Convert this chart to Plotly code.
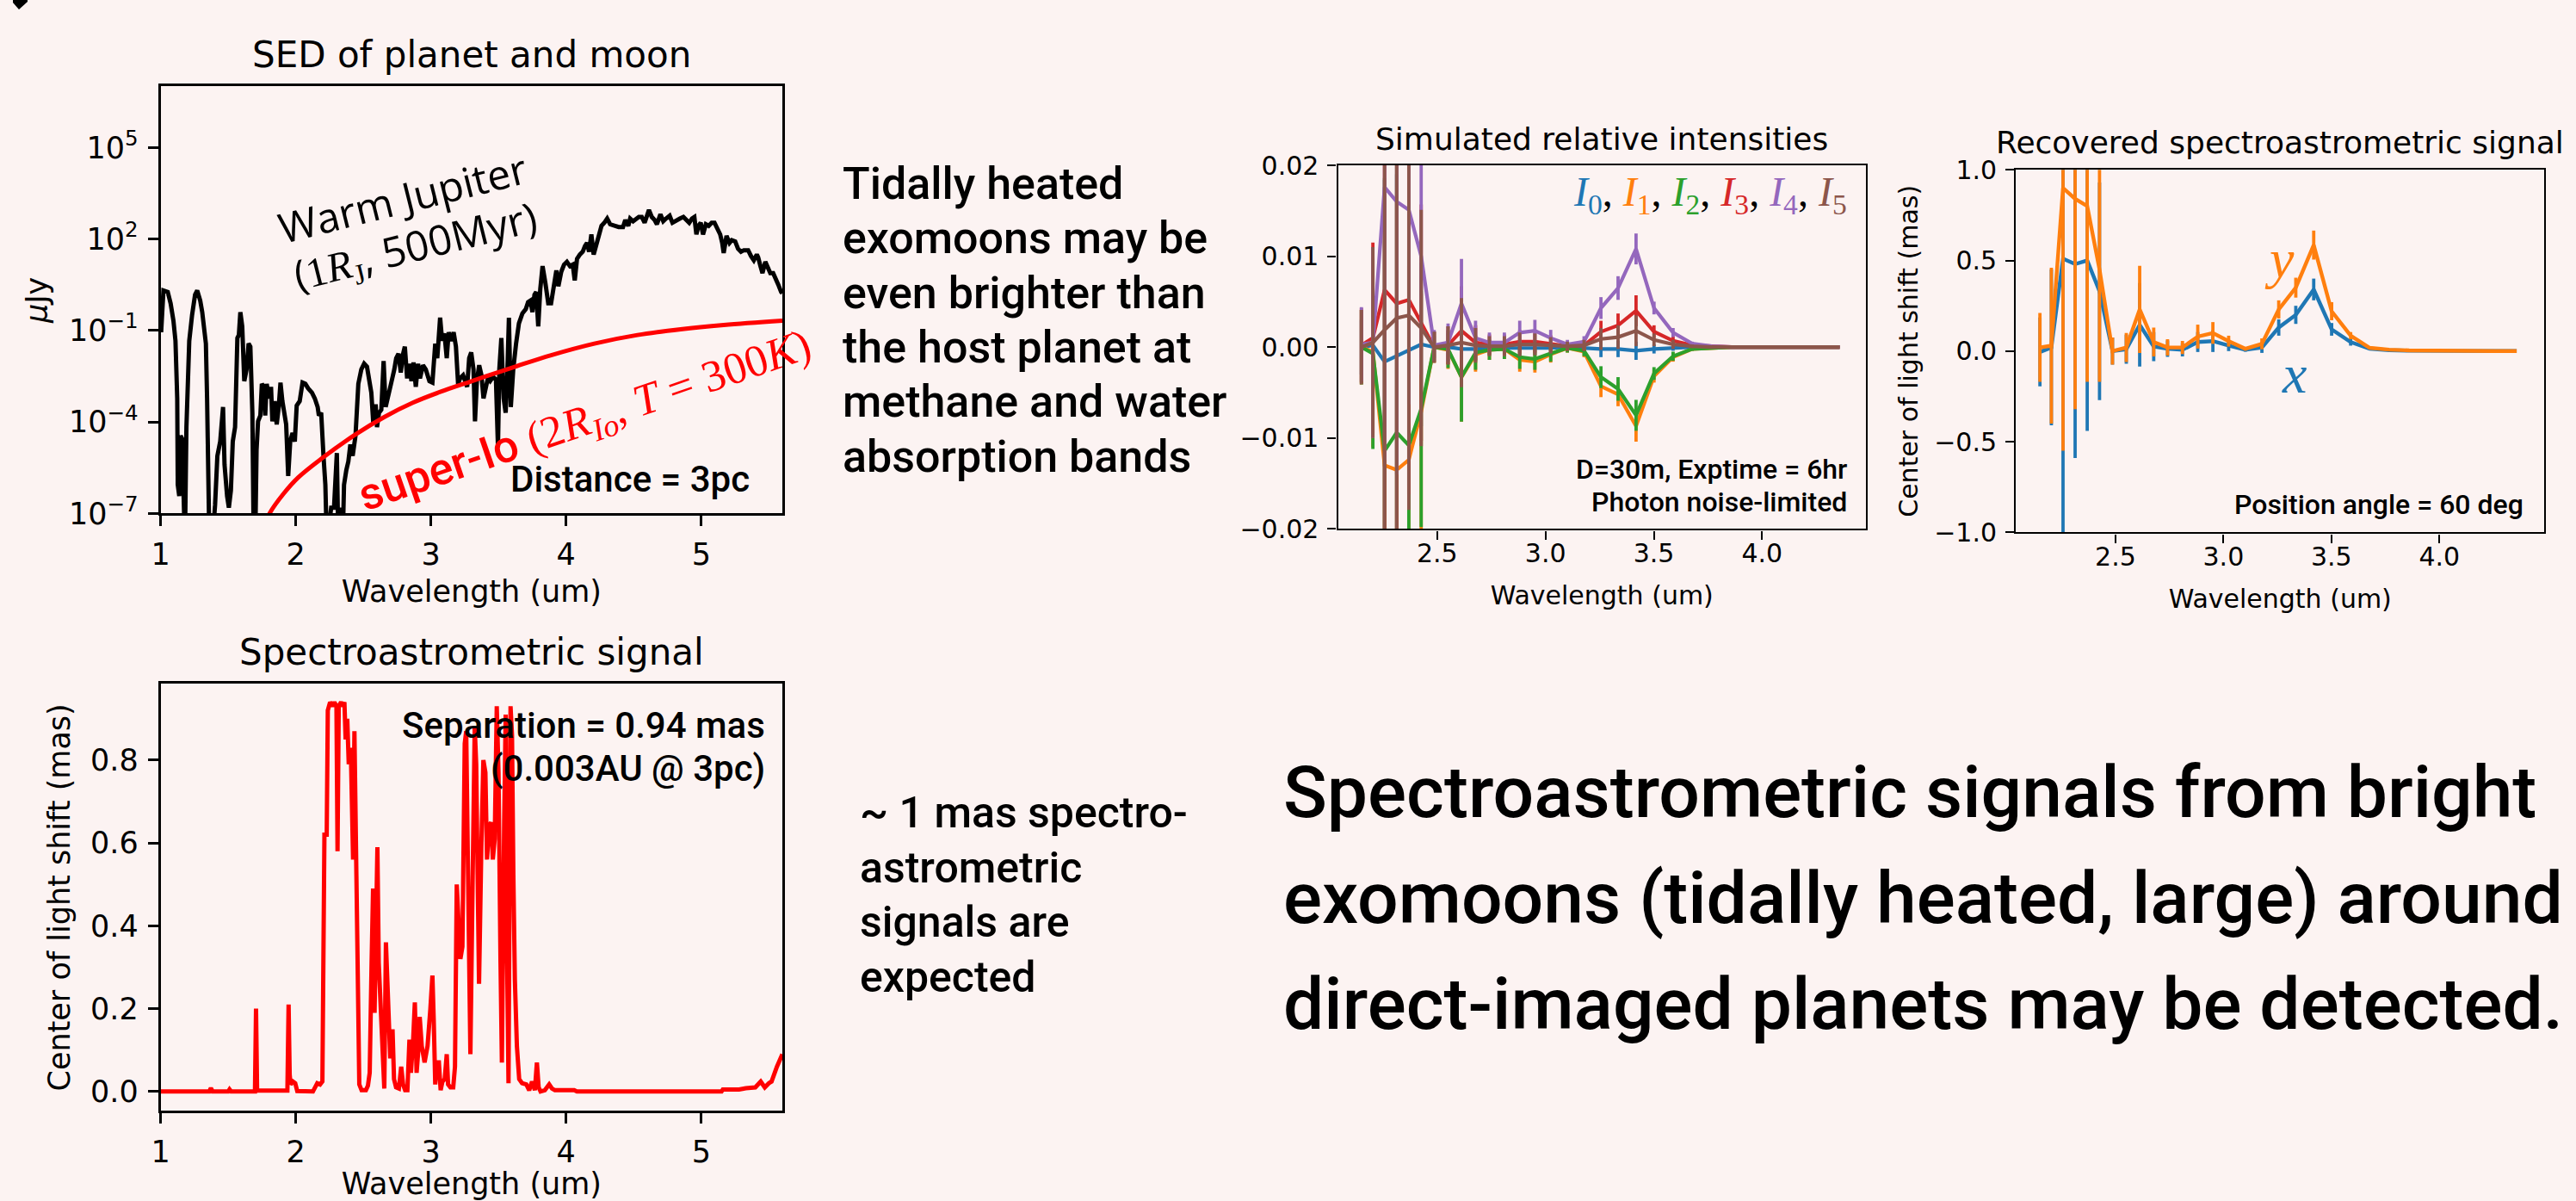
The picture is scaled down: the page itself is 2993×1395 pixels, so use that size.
import plotly.graph_objects as go

W, H = 2993, 1395
BG = "#FCF3F2"
MPL = "DejaVu Sans"
SLIDE = "Roboto"
MATH = "Liberation Serif"
TAB = ["#1f77b4", "#ff7f0e", "#2ca02c", "#d62728", "#9467bd", "#8c564b"]

# ---------------- Panel 1: SED (wavelength in um, log10 flux in uJy) ----------------
SED_WAVE = [1.004, 1.021, 1.053, 1.074, 1.095, 1.110, 1.123, 1.127, 1.138, 1.148, 1.159, 1.170, 1.180,
            1.191, 1.201, 1.212, 1.233, 1.255, 1.271, 1.293, 1.308, 1.322, 1.335, 1.344, 1.361, 1.382,
            1.403, 1.420, 1.441, 1.462, 1.473, 1.492, 1.505, 1.520, 1.534, 1.551, 1.568, 1.579, 1.590,
            1.604, 1.619, 1.636, 1.651, 1.664, 1.679, 1.689, 1.700, 1.710, 1.721, 1.738, 1.749, 1.764,
            1.774, 1.785, 1.802, 1.817, 1.827, 1.844, 1.859, 1.874, 1.887, 1.901, 1.916, 1.929, 1.944,
            1.959, 1.976, 1.993, 2.007, 2.029, 2.050, 2.071, 2.092, 2.120, 2.141, 2.162, 2.171, 2.188,
            2.205, 2.219, 2.230, 2.262, 2.283, 2.304, 2.315, 2.336, 2.347, 2.357, 2.374, 2.389, 2.404,
            2.421, 2.442, 2.463, 2.485, 2.506, 2.527, 2.544, 2.559, 2.574, 2.591, 2.601, 2.616, 2.633,
            2.650, 2.665, 2.680, 2.697, 2.714, 2.729, 2.743, 2.760, 2.777, 2.792, 2.807, 2.824, 2.841,
            2.856, 2.871, 2.888, 2.905, 2.919, 2.941, 2.962, 2.989, 3.011, 3.032, 3.047, 3.068, 3.083,
            3.100, 3.117, 3.131, 3.153, 3.168, 3.185, 3.201, 3.216, 3.238, 3.268, 3.283, 3.298, 3.315,
            3.326, 3.340, 3.357, 3.374, 3.389, 3.404, 3.421, 3.438, 3.460, 3.481, 3.496, 3.506, 3.521,
            3.538, 3.553, 3.566, 3.577, 3.591, 3.609, 3.630, 3.651, 3.677, 3.702, 3.719, 3.736, 3.751,
            3.766, 3.779, 3.794, 3.809, 3.826, 3.847, 3.868, 3.889, 3.911, 3.928, 3.943, 3.964, 3.985,
            4.006, 4.028, 4.049, 4.064, 4.081, 4.102, 4.123, 4.140, 4.155, 4.170, 4.187, 4.204, 4.219,
            4.240, 4.262, 4.283, 4.304, 4.326, 4.357, 4.389, 4.421, 4.438, 4.460, 4.474, 4.496, 4.517,
            4.538, 4.560, 4.581, 4.613, 4.634, 4.655, 4.672, 4.698, 4.719, 4.740, 4.766, 4.787, 4.815,
            4.843, 4.868, 4.889, 4.911, 4.932, 4.949, 4.964, 4.979, 4.996, 5.013, 5.034, 5.055, 5.077,
            5.098, 5.119, 5.140, 5.155, 5.166, 5.187, 5.209, 5.226, 5.251, 5.272, 5.294, 5.315, 5.347,
            5.368, 5.389, 5.411, 5.421, 5.438, 5.453, 5.474, 5.496, 5.511, 5.532, 5.549, 5.570, 5.591,
            5.600]
SED_LOGFLUX = [-1.06, 0.31, 0.26, -0.11, -0.68, -1.34, -3.23, -6.06, -6.43, -4.45, -4.55, -8.0, -8.0,
               -4.17, -2.28, -1.34, -0.49, 0.17, 0.31, -0.02, -0.40, -1.15, -1.43, -3.23, -8.0, -8.0,
               -6.72, -5.11, -4.64, -3.51, -5.40, -6.43, -6.81, -6.25, -4.64, -4.17, -1.25, -1.15, -0.40,
               -0.87, -2.66, -2.28, -1.43, -1.53, -3.70, -8.0, -8.0, -4.92, -3.98, -3.79, -2.75, -2.85,
               -3.79, -2.75, -3.23, -2.85, -3.98, -3.32, -4.08, -3.51, -2.71, -3.32, -3.79, -4.08, -5.77,
               -4.64, -4.36, -4.64, -3.46, -3.32, -2.71, -2.75, -2.90, -3.04, -3.23, -3.51, -3.79, -3.70,
               -5.11, -6.06, -8.0, -6.81, -6.81, -5.02, -8.0, -6.81, -8.0, -6.06, -5.58, -5.30, -4.74,
               -5.11, -4.45, -2.75, -2.28, -2.09, -2.19, -2.57, -3.04, -4.08, -3.42, -4.17, -3.70, -3.60,
               -2.00, -3.51, -3.23, -3.04, -2.57, -2.28, -1.91, -1.76, -2.38, -1.81, -1.53, -2.57, -2.09,
               -2.66, -2.05, -2.85, -2.09, -2.57, -2.14, -2.28, -2.66, -2.71, -1.43, -1.91, -0.58, -1.34,
               -1.10, -1.91, -1.06, -1.34, -1.06, -1.53, -2.75, -2.57, -2.47, -2.85, -1.91, -1.72, -2.28,
               -3.98, -2.66, -2.14, -2.47, -3.23, -2.85, -2.57, -2.66, -2.52, -2.61, -4.83, -2.28, -1.25,
               -3.23, -3.70, -2.28, -0.58, -3.51, -2.28, -1.43, -0.77, -0.44, -0.30, -0.07, -0.02, -0.40,
               0.17, 0.26, -0.87, 0.36, 1.11, 0.55, -0.11, -0.11, 0.55, 0.97, 0.45, 0.92, 1.16,
               1.25, 1.11, 1.16, 0.64, 1.35, 1.49, 1.58, 1.77, 1.87, 1.58, 2.15, 1.49, 1.77,
               2.15, 2.43, 2.53, 2.67, 2.48, 2.43, 2.39, 2.39, 2.62, 2.43, 2.67, 2.58, 2.67,
               2.72, 2.72, 2.53, 2.95, 2.72, 2.62, 2.48, 2.81, 2.58, 2.67, 2.76, 2.53, 2.62,
               2.67, 2.72, 2.62, 2.53, 2.67, 2.72, 2.15, 2.43, 2.53, 2.15, 2.48, 2.43, 2.53,
               2.53, 2.34, 2.15, 1.87, 1.54, 2.10, 1.87, 1.96, 1.92, 1.68, 1.58, 1.63, 1.63,
               1.44, 1.30, 1.49, 1.40, 1.11, 0.88, 1.25, 1.02, 0.88, 0.88, 0.74, 0.50, 0.26,
               0.22]
MOON_WAVE = [1.75, 1.806, 1.912, 2.018, 2.188, 2.442, 2.654, 2.866, 3.078, 3.290, 3.464, 3.634, 3.889,
             4.209, 4.528, 4.847, 5.166, 5.600]
MOON_LOGFLUX = [-7.6, -7.0, -6.34, -5.82, -5.21, -4.41, -3.84, -3.37, -3.00, -2.68, -2.42, -2.17, -1.81,
                -1.43, -1.15, -0.96, -0.82, -0.68]
SED_TICKS = [-7, -4, -1, 2, 5]

# ---------------- Panel 2: spectroastrometric signal (mas) ----------------
SIG_WAVE = [1.000, 1.360, 1.372, 1.385, 1.500, 1.510, 1.522, 1.698, 1.706, 1.714, 1.938, 1.947, 1.955,
            1.962, 1.979, 1.996, 2.011, 2.127, 2.159, 2.180, 2.197, 2.212, 2.229, 2.233, 2.237, 2.254,
            2.271, 2.286, 2.301, 2.309, 2.318, 2.335, 2.350, 2.360, 2.369, 2.381, 2.392, 2.407, 2.417,
            2.424, 2.434, 2.445, 2.458, 2.470, 2.487, 2.519, 2.534, 2.547, 2.561, 2.572, 2.583, 2.593,
            2.604, 2.614, 2.631, 2.646, 2.655, 2.667, 2.678, 2.689, 2.699, 2.716, 2.727, 2.742, 2.763,
            2.780, 2.794, 2.809, 2.826, 2.841, 2.852, 2.869, 2.881, 2.894, 2.907, 2.917, 2.932, 2.953,
            2.975, 2.996, 3.011, 3.021, 3.032, 3.045, 3.059, 3.072, 3.085, 3.102, 3.117, 3.127, 3.144,
            3.165, 3.178, 3.191, 3.208, 3.218, 3.233, 3.250, 3.261, 3.275, 3.292, 3.309, 3.324, 3.335,
            3.345, 3.356, 3.373, 3.388, 3.403, 3.415, 3.430, 3.445, 3.458, 3.472, 3.487, 3.500, 3.515,
            3.525, 3.542, 3.553, 3.564, 3.574, 3.589, 3.600, 3.610, 3.621, 3.636, 3.653, 3.674, 3.706,
            3.727, 3.748, 3.769, 3.784, 3.797, 3.811, 3.843, 3.875, 3.896, 3.917, 3.949, 4.060, 4.080,
            5.150, 5.160, 5.280, 5.330, 5.400, 5.440, 5.470, 5.500, 5.520, 5.560, 5.600]
SIG_MAS = [0.000, 0.000, 0.008, 0.000, 0.000, 0.005, 0.000, 0.000, 0.200, 0.002, 0.002, 0.210, 0.040,
           0.017, 0.024, 0.020, 0.001, 0.000, 0.020, 0.017, 0.024, 0.62, 0.62, 0.81, 0.92, 0.94,
           0.93, 0.94, 0.93, 0.58, 0.93, 0.94, 0.93, 0.94, 0.85, 0.90, 0.79, 0.83, 0.56,
           0.56, 0.87, 0.63, 0.38, 0.017, 0.003, 0.003, 0.014, 0.045, 0.31, 0.49, 0.19, 0.47,
           0.59, 0.31, 0.17, 0.11, 0.007, 0.36, 0.27, 0.19, 0.08, 0.15, 0.03, 0.01, 0.007,
           0.06, 0.017, 0.003, 0.003, 0.125, 0.045, 0.128, 0.215, 0.045, 0.10, 0.18, 0.11, 0.07,
           0.11, 0.20, 0.28, 0.17, 0.017, 0.07, 0.07, 0.003, 0.024, 0.03, 0.09, 0.017, 0.01,
           0.01, 0.06, 0.50, 0.41, 0.32, 0.35, 0.84, 0.87, 0.52, 0.09, 0.52, 0.88, 0.79,
           0.52, 0.26, 0.59, 0.80, 0.77, 0.56, 0.64, 0.65, 0.56, 0.61, 0.93, 0.77, 0.31,
           0.07, 0.65, 0.91, 0.31, 0.02, 0.93, 0.86, 0.52, 0.27, 0.11, 0.03, 0.02, 0.017,
           0.003, 0.024, 0.003, 0.07, 0.01, 0.000, 0.003, 0.017, 0.007, 0.003, 0.003, 0.003, 0.000,
           0.000, 0.005, 0.005, 0.008, 0.010, 0.024, 0.010, 0.020, 0.024, 0.060, 0.090]

# ---------------- Panel 3: simulated relative intensities ----------------
INT_WAVE = [2.150, 2.203, 2.257, 2.313, 2.369, 2.426, 2.486, 2.550, 2.612, 2.677, 2.741, 2.810, 2.881,
            2.951, 3.024, 3.101, 3.178, 3.256, 3.335, 3.418, 3.501, 3.589, 3.677, 3.767, 3.860, 3.955,
            4.052, 4.152, 4.254, 4.358]
I0 = [0.0, 0.0002, -0.0016, -0.0010, -0.0003, 0.0003, 0.0, 0.0, -0.0002, -0.0002, -0.0001, -0.0001,
      -0.0001, -0.0001, -0.0001, 0.0, -0.0001, -0.0002, -0.0002, -0.0004, -0.0002, -0.0001, 0.0, 0.0,
      0.0, 0.0, 0.0, 0.0, 0.0, 0.0]
I1 = [0.0, -0.0005, -0.0130, -0.0135, -0.0124, -0.0071, 0.0, -0.0003, -0.0033, -0.0008, -0.0003,
      -0.0002, -0.0014, -0.0016, -0.0008, -0.0001, -0.0005, -0.0043, -0.0052, -0.0087, -0.0032, -0.0011,
      -0.0002, -0.0001, 0.0, 0.0, 0.0, 0.0, 0.0, 0.0]
I2 = [0.0, -0.0007, -0.0114, -0.0094, -0.0108, -0.0068, 0.0, -0.0002, -0.0033, -0.0006, -0.0003,
      -0.0002, -0.0011, -0.0013, -0.0007, -0.0001, -0.0004, -0.0033, -0.0046, -0.0075, -0.0029, -0.0010,
      -0.0002, -0.0001, 0.0, 0.0, 0.0, 0.0, 0.0, 0.0]
I3 = [0.0002, 0.0010, 0.0063, 0.0048, 0.0052, 0.0027, 0.0, 0.0002, 0.0018, 0.0005, 0.0003, 0.0003,
      0.0006, 0.0006, 0.0004, 0.0001, 0.0002, 0.0017, 0.0024, 0.0040, 0.0017, 0.0007, 0.0002, 0.0001,
      0.0, 0.0, 0.0, 0.0, 0.0, 0.0]
I4 = [0.0003, 0.0005, 0.0176, 0.0160, 0.0151, 0.0100, 0.0002, 0.0005, 0.0048, 0.0010, 0.0005, 0.0005,
      0.0016, 0.0018, 0.0010, 0.0003, 0.0006, 0.0043, 0.0065, 0.0108, 0.0043, 0.0016, 0.0004, 0.0001,
      0.0, 0.0, 0.0, 0.0, 0.0, 0.0]
I5 = [0.0, 0.0005, 0.0019, 0.0032, 0.0035, 0.0021, 0.0, 0.0002, 0.0005, 0.0002, 0.0001, 0.0001,
      0.0003, 0.0003, 0.0002, 0.0001, 0.0002, 0.0009, 0.0011, 0.0018, 0.0008, 0.0003, 0.0001, 0.0,
      0.0, 0.0, 0.0, 0.0, 0.0, 0.0]
INT_ERR = [0.0041, 0.0105, 0.030, 0.030, 0.0214, 0.013, 0.0017, 0.0021, 0.0049, 0.0019, 0.0011, 0.0011,
           0.0013, 0.0012, 0.0009, 0.0005, 0.0006, 0.0012, 0.0013, 0.0017, 0.0007, 0.0005, 0.0002, 0.0001,
           0.0, 0.0, 0.0, 0.0, 0.0, 0.0]
I0_ERR = [0.0030, 0.0070, 0.020, 0.020, 0.015, 0.009, 0.0012, 0.0015, 0.0033, 0.0013, 0.0008, 0.0008,
          0.0009, 0.0008, 0.0006, 0.0004, 0.0005, 0.0009, 0.0009, 0.0010, 0.0005, 0.0003, 0.0001, 0.0001,
          0.0, 0.0, 0.0, 0.0, 0.0, 0.0]

# ---------------- Panel 4: recovered spectroastrometric signal (mas) ----------------
REC_X = [-0.005, 0.02, 0.51, 0.48, 0.50, 0.33, 0.0, 0.01, 0.145, 0.025, 0.013, 0.007, 0.05, 0.055, 0.03,
         0.007, 0.02, 0.13, 0.20, 0.34, 0.12, 0.05, 0.013, 0.005, 0.002, 0.001, 0.0, 0.0, 0.0, 0.0]
REC_Y = [0.02, 0.03, 0.90, 0.84, 0.80, 0.45, 0.0, 0.02, 0.23, 0.05, 0.02, 0.02, 0.08, 0.10, 0.055,
         0.013, 0.04, 0.23, 0.35, 0.585, 0.22, 0.085, 0.018, 0.008, 0.004, 0.002, 0.001, 0.0, 0.0, 0.0]
REC_XERR = [0.19, 0.43, 1.60, 1.07, 0.94, 0.60, 0.075, 0.08, 0.23, 0.08, 0.045, 0.036, 0.055, 0.06, 0.03,
            0.01, 0.03, 0.045, 0.05, 0.06, 0.035, 0.02, 0.005, 0.002, 0.0, 0.0, 0.0, 0.0, 0.0, 0.0]
REC_YERR = [0.19, 0.43, 1.45, 1.16, 0.97, 0.62, 0.075, 0.08, 0.24, 0.08, 0.045, 0.036, 0.066, 0.06, 0.03,
            0.01, 0.03, 0.05, 0.055, 0.08, 0.05, 0.02, 0.005, 0.002, 0.0, 0.0, 0.0, 0.0, 0.0, 0.0]


def dx(l, r):
    return [l / W, r / W]


def dy(t, b):
    return [1 - b / H, 1 - t / H]


def ax(fs, tl, lw, **kw):
    d = dict(showline=True, mirror=True, linecolor="black", linewidth=lw, ticks="outside",
             ticklen=tl, tickwidth=lw, tickcolor="black", showgrid=False, zeroline=False,
             automargin=False, tickfont=dict(family=MPL, size=fs, color="black"))
    d.update(kw)
    return d


fig = go.Figure()

# Panel 1
fig.add_trace(go.Scatter(x=SED_WAVE, y=[10 ** v for v in SED_LOGFLUX], mode="lines",
                         line=dict(color="black", width=5), xaxis="x", yaxis="y"))
fig.add_trace(go.Scatter(x=MOON_WAVE, y=[10 ** v for v in MOON_LOGFLUX], mode="lines",
                         line=dict(color="#ff0000", width=5, shape="spline"), xaxis="x", yaxis="y"))
# Panel 2
fig.add_trace(go.Scatter(x=SIG_WAVE, y=SIG_MAS, mode="lines",
                         line=dict(color="#ff0000", width=5), xaxis="x2", yaxis="y2"))
# Panel 3
for k, (series, err) in enumerate(zip([I0, I1, I2, I3, I4, I5],
                                      [I0_ERR, INT_ERR, INT_ERR, INT_ERR, INT_ERR, INT_ERR])):
    fig.add_trace(go.Scatter(x=INT_WAVE, y=series, mode="lines",
                             line=dict(color=TAB[k], width=4.2),
                             error_y=dict(type="data", array=err, color=TAB[k], thickness=3.8, width=0),
                             xaxis="x3", yaxis="y3"))
# Panel 4
fig.add_trace(go.Scatter(x=INT_WAVE, y=REC_X, mode="lines", line=dict(color=TAB[0], width=4.4),
                         error_y=dict(type="data", array=REC_XERR, color=TAB[0], thickness=3.8, width=0),
                         xaxis="x4", yaxis="y4"))
fig.add_trace(go.Scatter(x=INT_WAVE, y=REC_Y, mode="lines", line=dict(color=TAB[1], width=4.4),
                         error_y=dict(type="data", array=REC_YERR, color=TAB[1], thickness=3.8, width=0),
                         xaxis="x4", yaxis="y4"))

P1X, P1Y = dx(186.6, 909), dy(100.4, 596.4)
P2X, P2Y = dx(186.6, 909), dy(794.4, 1290.4)
P3X, P3Y = dx(1554.6, 2167.9), dy(192, 614.4)
P4X, P4Y = dx(2342.3, 2956.2), dy(197.3, 618.3)

fig.update_layout(
    width=W, height=H, margin=dict(l=0, r=0, t=0, b=0, autoexpand=False),
    paper_bgcolor=BG, plot_bgcolor=BG, showlegend=False,
    xaxis=ax(35, 12, 2.8, domain=P1X, anchor="y", range=[1, 5.6], tickvals=[1, 2, 3, 4, 5],
             ticklabelstandoff=3,
             title=dict(text="Wavelength (um)", font=dict(family=MPL, size=35, color="black"), standoff=12)),
    yaxis=ax(35, 12, 2.8, domain=P1Y, anchor="x", type="log", range=[-7, 7],
             tickvals=[10 ** t for t in SED_TICKS],
             ticktext=["10<sup>%s</sup>" % (str(t).replace("-", "\u2212")) for t in SED_TICKS],
             ticklabelstandoff=4,
             title=dict(text="<i>\u03bc</i>Jy", font=dict(family=MPL, size=35, color="black"), standoff=14)),
    xaxis2=ax(35, 12, 2.8, domain=P2X, anchor="y2", range=[1, 5.6], tickvals=[1, 2, 3, 4, 5],
              ticklabelstandoff=3,
              title=dict(text="Wavelength (um)", font=dict(family=MPL, size=35, color="black"), standoff=13)),
    yaxis2=ax(35, 12, 2.8, domain=P2Y, anchor="x2", range=[-0.047, 0.984],
              tickvals=[0, 0.2, 0.4, 0.6, 0.8], ticktext=["0.0", "0.2", "0.4", "0.6", "0.8"],
              ticklabelstandoff=4,
              title=dict(text="Center of light shift (mas)", font=dict(family=MPL, size=35, color="black"),
                         standoff=13)),
    xaxis3=ax(30, 10, 2.4, domain=P3X, anchor="y3", range=[2.042, 4.479], tickvals=[2.5, 3.0, 3.5, 4.0],
              ticktext=["2.5", "3.0", "3.5", "4.0"], ticklabelstandoff=-10,
              title=dict(text="Wavelength (um)", font=dict(family=MPL, size=30, color="black"), standoff=22)),
    yaxis3=ax(30, 10, 2.4, domain=P3Y, anchor="x3", range=[-0.02, 0.02],
              tickvals=[-0.02, -0.01, 0, 0.01, 0.02],
              ticktext=["\u22120.02", "\u22120.01", "0.00", "0.01", "0.02"], ticklabelstandoff=4),
    xaxis4=ax(30, 10, 2.4, domain=P4X, anchor="y4", range=[2.039, 4.486], tickvals=[2.5, 3.0, 3.5, 4.0],
              ticktext=["2.5", "3.0", "3.5", "4.0"], ticklabelstandoff=-10,
              title=dict(text="Wavelength (um)", font=dict(family=MPL, size=30, color="black"), standoff=22)),
    yaxis4=ax(30, 10, 2.4, domain=P4Y, anchor="x4", range=[-1, 1],
              tickvals=[-1, -0.5, 0, 0.5, 1],
              ticktext=["\u22121.0", "\u22120.5", "0.0", "0.5", "1.0"], ticklabelstandoff=4,
              title=dict(text="Center of light shift (mas)", font=dict(family=MPL, size=30, color="black"),
                         standoff=10)),
)


def ann(text, x, y, size, family=SLIDE, color="black", xanchor="left", yanchor="middle", angle=0,
        weight="normal"):
    return dict(text=text, x=x / W, y=1 - y / H, xref="paper", yref="paper", showarrow=False,
                font=dict(family=family, size=size, color=color, weight=weight), xanchor=xanchor,
                yanchor=yanchor, textangle=angle,
                align="left" if xanchor == "left" else ("right" if xanchor == "right" else "center"))


A = []
# subplot titles
A.append(ann("SED of planet and moon", 548, 64, 42, MPL, xanchor="center"))
A.append(ann("Spectroastrometric signal", 548, 757, 42, MPL, xanchor="center"))
A.append(ann("Simulated relative intensities", 1861, 162, 36, MPL, xanchor="center"))
A.append(ann("Recovered spectroastrometric signal", 2649, 165, 36, MPL, xanchor="center"))

# panel 1 annotations
A.append(ann("Warm Jupiter", 468, 229, 48, "Open Sans", xanchor="center", angle=-14))
A.append(ann("(<span style='font-family:Liberation Serif'>1<i>R</i><sub>J</sub></span>, 500Myr)",
             483, 286, 48, "Open Sans", xanchor="center", angle=-14))
A.append(ann("super-Io <span style='font-family:Liberation Serif'>(2<i>R</i><sub><i>Io</i></sub>, "
             "<i>T</i> = 300<i>K</i>)</span>", 680, 490, 52, SLIDE, color="#ff0000",
             xanchor="center", angle=-19, weight=500))
A.append(ann("Distance = 3pc", 873, 556, 42, SLIDE, xanchor="right", weight=500))

# panel 2 annotation
A.append(ann("Separation = 0.94 mas", 891, 842, 42, SLIDE, xanchor="right", weight=500))
A.append(ann("(0.003AU @ 3pc)", 891, 892, 42, SLIDE, xanchor="right", weight=500))

# panel 3 annotations
legend_txt = ", ".join("<span style='color:%s'><i>I</i><sub>%d</sub></span>" % (TAB[k], k) for k in range(6))
A.append(ann(legend_txt, 2148, 226, 48, MATH, xanchor="right"))
A.append(ann("D=30m, Exptime = 6hr", 2148, 545, 32, SLIDE, xanchor="right", weight=500))
A.append(ann("Photon noise-limited", 2148, 583, 32, SLIDE, xanchor="right", weight=500))

# panel 4 annotations
A.append(ann("<i>y</i>", 2648, 300, 64, MATH, color=TAB[1], xanchor="center"))
A.append(ann("<i>x</i>", 2665, 435, 64, MATH, color=TAB[0], xanchor="center"))
A.append(ann("Position angle = 60 deg", 2934, 586, 32, SLIDE, xanchor="right", weight=500))

# slide text
for i, line in enumerate(["Tidally heated", "exomoons may be", "even brighter than",
                          "the host planet at", "methane and water", "absorption bands"]):
    A.append(ann(line, 977, 213.5 + 63.3 * i, 52, SLIDE, weight=500))
for i, line in enumerate(["~ 1 mas spectro-", "astrometric", "signals are", "expected"]):
    A.append(ann(line, 997, 944 + 63.7 * i, 50, SLIDE, weight=500))
for i, line in enumerate(["Spectroastrometric signals from bright",
                          "exomoons (tidally heated, large) around",
                          "direct-imaged planets may be detected."]):
    A.append(ann(line, 1489, 921 + 122.5 * i, 84, SLIDE, weight=500))

fig.update_layout(annotations=A)

# small black mark at the top-left corner
fig.add_shape(type="path", xref="paper", yref="paper",
              path="M %f,%f L %f,%f L %f,%f L %f,%f L %f,%f Z" % (
                  15 / W, 1.0, 15 / W, 1 - 3 / H, 22 / W, 1 - 11 / H, 32 / W, 1 - 2 / H, 32 / W, 1.0),
              fillcolor="black", line=dict(width=0))

fig.write_html("out.html", config={"displayModeBar": False},
               post_script="document.body.style.margin='0px';document.body.style.overflow='hidden';")
